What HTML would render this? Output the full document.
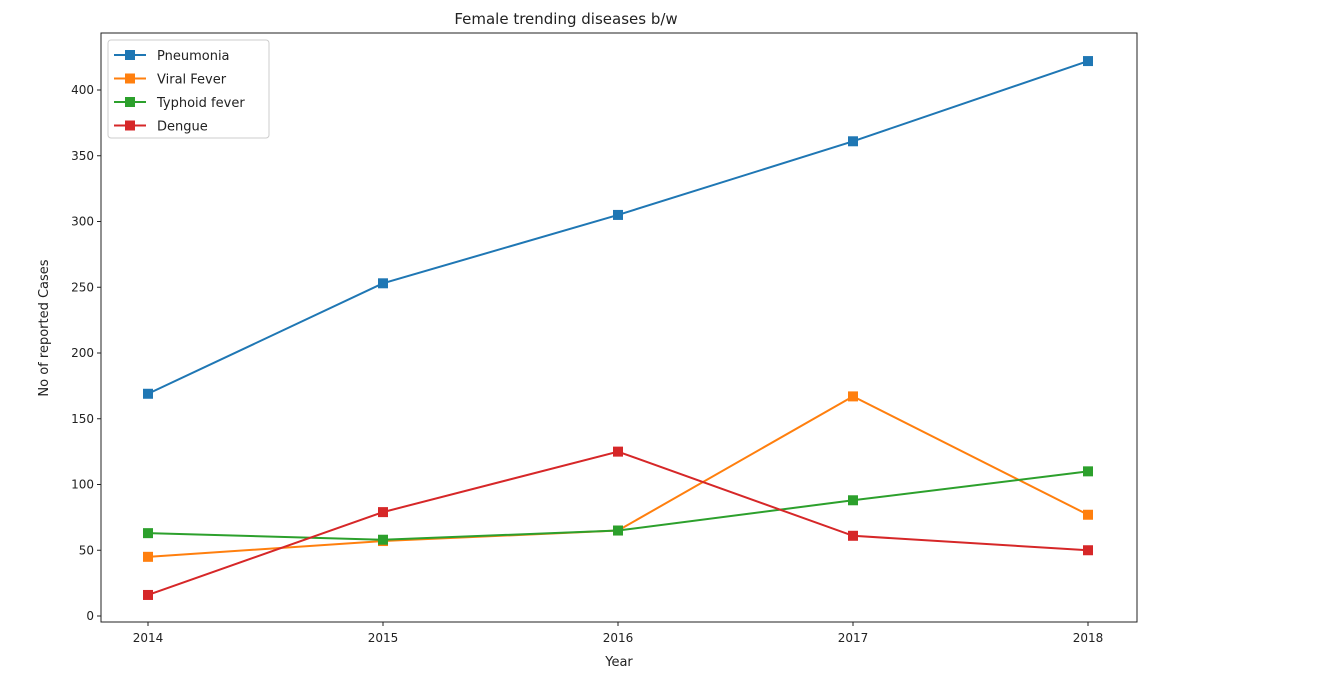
<!DOCTYPE html>
<html><head><meta charset="utf-8"><style>
body{margin:0;background:#fff;width:1332px;height:684px;overflow:hidden;font-family:"Liberation Sans","DejaVu Sans",sans-serif}
svg text{font-family:"DejaVu Sans","Liberation Sans",sans-serif;fill:#222}
</style></head><body>
<svg id="chart" width="1332" height="684" xmlns="http://www.w3.org/2000/svg"></svg>
<script>
const years = [2014, 2015, 2016, 2017, 2018];
const pneumonia = [169, 253, 305, 361, 422];
const viralFever = [45, 57, 65, 167, 77];
const typhoidFever = [63, 58, 65, 88, 110];
const dengue = [16, 79, 125, 61, 50];
const yTicks = [0, 50, 100, 150, 200, 250, 300, 350, 400];
const seriesNames = ["Pneumonia", "Viral Fever", "Typhoid fever", "Dengue"];
const seriesColors = ["#1f77b4", "#ff7f0e", "#2ca02c", "#d62728"];

const NS = "http://www.w3.org/2000/svg";
const svg = document.getElementById("chart");
function mk(tag, attrs, parent) {
  const e = document.createElementNS(NS, tag);
  for (const k in attrs) e.setAttribute(k, attrs[k]);
  (parent || svg).appendChild(e);
  return e;
}
const L = 101, R = 1137, T = 33, B = 622;
const xs = v => 148 + (v - years[0]) * 235;
const ys = v => 616 - v * 1.315;

const title = mk("text", {x: 566, y: 24, "text-anchor": "middle", "font-size": 15});
title.textContent = "Female trending diseases b/w";



years.forEach(y => {
  const g = mk("g", {});
  
  
  mk("line", {x1: xs(y), x2: xs(y), y1: B, y2: B + 4, stroke: "#222"}, g);
  const t = mk("text", {x: xs(y), y: B + 20, "text-anchor": "middle", "font-size": 12}, g);
  t.textContent = y;
});
yTicks.forEach(v => {
  const g = mk("g", {});
  
  
  mk("line", {x1: L - 4, x2: L, y1: ys(v), y2: ys(v), stroke: "#222"}, g);
  const t = mk("text", {x: L - 7, y: ys(v) + 4, "text-anchor": "end", "font-size": 12}, g);
  t.textContent = v;
});
const xl = mk("text", {x: 619, y: 666, "text-anchor": "middle", "font-size": 13});
xl.textContent = "Year";


const yl = mk("text", {x: 0, y: 0, "text-anchor": "middle", "font-size": 13, transform: "translate(48,328) rotate(-90)"});
yl.textContent = "No of reported Cases";



const data = [pneumonia, viralFever, typhoidFever, dengue];
data.forEach((vals, i) => {
  const g = mk("g", {});
  
  
  mk("polyline", {points: vals.map((v, j) => xs(years[j]) + "," + ys(v)).join(" "), fill: "none", stroke: seriesColors[i], "stroke-width": 2}, g);
  vals.forEach((v, j) => {
    const m = mk("rect", {x: xs(years[j]) - 5, y: ys(v) - 5, width: 10, height: 10, fill: seriesColors[i]}, g);
    
    
  });
});

const fr = mk("rect", {x: L, y: T, width: R - L, height: B - T, fill: "none", stroke: "#222", "stroke-width": 1});



const lg = mk("g", {});


mk("rect", {x: 108, y: 40, width: 161, height: 98, rx: 3, fill: "#fff", stroke: "#ccc"}, lg);
seriesNames.forEach((n, i) => {
  const e = mk("g", {}, lg);
  
  
  const cy = 55 + i * 23.5;
  mk("line", {x1: 114, x2: 146, y1: cy, y2: cy, stroke: seriesColors[i], "stroke-width": 2}, e);
  mk("rect", {x: 125, y: cy - 5, width: 10, height: 10, fill: seriesColors[i]}, e);
  const t = mk("text", {x: 157, y: cy + 5, "font-size": 13}, e);
  t.textContent = n;
});
</script>
</body></html>
